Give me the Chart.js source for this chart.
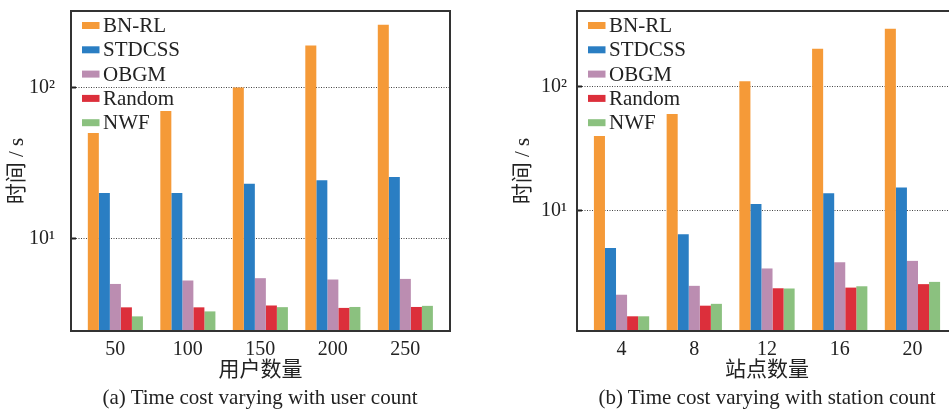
<!DOCTYPE html>
<html>
<head>
<meta charset="utf-8">
<script src="https://cdn.jsdelivr.net/npm/chart.js@4.4.0/dist/chart.umd.min.js"></script>
<style>
    html, body { margin: 0; padding: 0; background: #fff; overflow: hidden; }
    .wrap { position: relative; width: 949px; height: 409px; overflow: hidden; }
    .panel { position: absolute; top: 0; }
    .caption {
        position: absolute; top: 385px; line-height: 24px;
        font-family: 'Liberation Serif', serif; font-size: 21px; color: #222;
        white-space: nowrap; transform: translateX(-50%);
    }
</style>
</head>
<body>
<div class="wrap">
    <canvas id="chartA" class="panel" style="left:0" width="480" height="409"></canvas>
    <canvas id="chartB" class="panel" style="left:480px" width="480" height="409"></canvas>
    <div class="caption" style="left:260px">(a) Time cost varying with user count</div>
    <div class="caption" style="left:767px">(b) Time cost varying with station count</div>
</div>
<script>
// Data
const seriesNames = ['BN-RL', 'STDCSS', 'OBGM', 'Random', 'NWF'];
const seriesColors = ['#F59A38', '#2A7EC3', '#BB8DB1', '#DC2F3B', '#8BC17F'];

const userCounts = [50, 100, 150, 200, 250];
const bnrlUser = [50, 70, 100, 190, 260];
const stdcssUser = [20, 20, 23, 24.3, 25.5];
const obgmUser = [5.0, 5.27, 5.46, 5.35, 5.4];
const randomUser = [3.5, 3.5, 3.6, 3.47, 3.52];
const nwfUser = [3.05, 3.29, 3.51, 3.52, 3.58];

const stationCounts = [4, 8, 12, 16, 20];
const bnrlStation = [40, 60, 110, 200, 290];
const stdcssStation = [5.05, 6.5, 11.4, 13.9, 15.4];
const obgmStation = [2.13, 2.51, 3.46, 3.88, 3.98];
const randomStation = [1.43, 1.74, 2.4, 2.43, 2.59];
const nwfStation = [1.43, 1.8, 2.39, 2.49, 2.7];

const yTicks = [10, 100];
const yTickLabels = ['10¹', '10²'];

Chart.defaults.font.family = "'Liberation Serif', 'Noto Sans CJK SC', serif";
Chart.defaults.font.size = 20;
Chart.defaults.color = '#222';

// Box around the plot area
const framePlugin = {
    id: 'frame',
    afterDraw(chart) {
        const { ctx, chartArea: a } = chart;
        ctx.save();
        ctx.strokeStyle = '#333';
        ctx.lineWidth = 2;
        ctx.strokeRect(a.left, a.top, a.right - a.left, a.bottom - a.top);
        ctx.restore();
    }
};

// Legend in the top left corner of the plot area
const cornerLegend = {
    id: 'cornerLegend',
    afterDraw(chart) {
        const { ctx, chartArea: a } = chart;
        ctx.save();
        ctx.font = "21px 'Liberation Serif', serif";
        ctx.textBaseline = 'middle';
        chart.data.datasets.forEach((ds, i) => {
            const cy = a.top + 14.5 + i * 24.3;
            ctx.fillStyle = ds.backgroundColor;
            ctx.fillRect(a.left + 11, cy - 3.5, 17.5, 7);
            ctx.fillStyle = '#222';
            ctx.fillText(ds.label, a.left + 32, cy + 1);
        });
        ctx.restore();
    }
};

// Keep the scales from pushing the plot area inwards
function noPadding(s) {
    s.paddingTop = 0;
    s.paddingBottom = 0;
    s.paddingLeft = 0;
    s.paddingRight = 0;
}

function buildChart(canvasId, cats, values, cfg) {
    const datasets = values.map((vals, i) => ({
        label: seriesNames[i],
        data: cats.map((c, j) => ({ x: c, y: vals[j] })),
        backgroundColor: seriesColors[i],
        borderWidth: 0
    }));

    return new Chart(document.getElementById(canvasId), {
        type: 'bar',
        data: { datasets },
        options: {
            responsive: false,
            animation: false,
            layout: { autoPadding: false, padding: { left: 0, top: 11, right: cfg.padRight, bottom: 0 } },
            datasets: { bar: { categoryPercentage: 0.76, barPercentage: 1 } },
            plugins: { legend: { display: false }, tooltip: { enabled: false } },
            scales: {
                x: {
                    type: 'linear',
                    offset: false,
                    min: cfg.xMin,
                    max: cfg.xMax,
                    afterBuildTicks: s => { s.ticks = cats.map(v => ({ value: v })); },
                    afterFit: s => { s.height = 78; noPadding(s); },
                    border: { display: false },
                    grid: {
                        offset: false, display: true, drawOnChartArea: false, drawTicks: true,
                        tickLength: -5, tickColor: '#222', tickWidth: 2
                    },
                    ticks: { padding: 12, maxRotation: 0, callback: v => String(v) },
                    title: { display: true, text: cfg.xTitle, font: { size: 21 }, padding: { top: 0, bottom: 26 } }
                },
                y: {
                    type: 'logarithmic',
                    min: cfg.yMin,
                    max: cfg.yMax,
                    z: 1,
                    afterBuildTicks: s => { s.ticks = yTicks.map(v => ({ value: v })); },
                    afterFit: s => { s.width = cfg.yWidth; noPadding(s); },
                    border: { display: false, dash: [1, 1.5] },
                    grid: {
                        color: '#444', lineWidth: 1,
                        drawTicks: true, tickLength: -5, tickColor: '#222', tickWidth: 2
                    },
                    ticks: {
                        padding: cfg.yPad,
                        callback: v => yTickLabels[yTicks.indexOf(v)] || ''
                    },
                    title: { display: true, text: '时间 / s', font: { size: 21 }, padding: { top: cfg.yTitlePad, bottom: 0 } }
                }
            }
        },
        plugins: [framePlugin, cornerLegend]
    });
}

buildChart('chartA', userCounts,
    [bnrlUser, stdcssUser, obgmUser, randomUser, nwfUser],
    { xMin: 19.4, xMax: 280.8, yMin: 2.44, yMax: 321, yWidth: 71, yPad: 21, yTitlePad: 5, padRight: 30, xTitle: '用户数量' });

buildChart('chartB', stationCounts,
    [bnrlStation, stdcssStation, obgmStation, randomStation, nwfStation],
    { xMin: 1.55, xMax: 22.45, yMin: 1.09, yMax: 402, yWidth: 97, yPad: 15, yTitlePad: 31, padRight: 3, xTitle: '站点数量' });
</script>
</body>
</html>
